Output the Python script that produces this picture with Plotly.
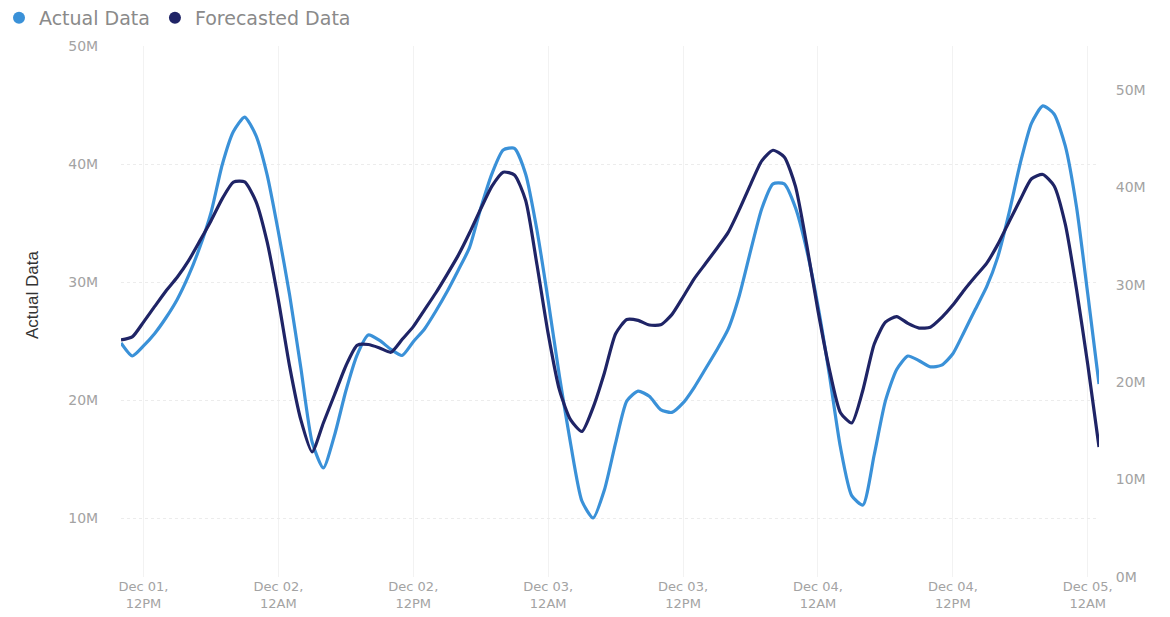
import pandas as pd
import plotly.graph_objects as go

# ---- data (hourly, Dec 01 10:00 -> Dec 05 01:00) ----
START = "2023-12-01 10:00"
actual_m = [
    24.83, 23.73, 24.58, 25.64, 26.97, 28.52, 30.51, 32.92, 35.85, 39.92,
    42.75, 43.98, 42.42, 39.07, 34.24, 28.90, 22.71, 16.44, 14.24, 17.03,
    20.76, 23.81, 25.51, 25.05, 24.30, 23.77, 24.94, 26.02, 27.52, 29.17,
    31.00, 32.91, 36.25, 39.19, 41.19, 41.33, 39.14, 34.41, 28.44, 22.03,
    16.27, 11.44, 10.00, 12.37, 16.36, 19.92, 20.75, 20.31, 19.19, 18.95,
    19.75, 21.08, 22.65, 24.24, 25.98, 28.84, 32.61, 36.21, 38.32, 38.31,
    36.29, 32.71, 27.97, 22.23, 15.99, 11.90, 11.10, 15.34, 19.92, 22.59,
    23.73, 23.33, 22.81, 22.95, 23.92, 25.77, 27.69, 29.58, 32.13, 35.85,
    40.08, 43.47, 44.92, 44.24, 41.53, 36.36, 28.98, 21.36,
]
forecast_m = [
    24.33, 24.64, 26.16, 27.77, 29.36, 30.76, 32.44, 34.47, 36.55, 38.81,
    40.53, 40.55, 38.56, 34.39, 28.42, 21.62, 16.12, 12.83, 15.81, 18.73,
    21.66, 23.78, 23.86, 23.51, 23.06, 24.37, 25.70, 27.42, 29.15, 31.04,
    33.01, 35.30, 37.78, 40.12, 41.55, 41.27, 38.64, 32.07, 24.98, 19.20,
    16.12, 14.94, 17.41, 20.94, 24.97, 26.43, 26.34, 25.86, 25.88, 26.93,
    28.74, 30.63, 32.17, 33.72, 35.34, 37.70, 40.28, 42.71, 43.80, 43.11,
    40.09, 34.10, 27.34, 21.39, 16.86, 15.81, 19.20, 23.89, 26.15, 26.73,
    26.03, 25.55, 25.64, 26.63, 27.91, 29.44, 30.84, 32.19, 34.14, 36.45,
    38.74, 40.88, 41.31, 40.16, 36.21, 29.53, 21.81, 13.35,
]
tick_times = [
    "2023-12-01 12:00", "2023-12-02 00:00", "2023-12-02 12:00", "2023-12-03 00:00",
    "2023-12-03 12:00", "2023-12-04 00:00", "2023-12-04 12:00", "2023-12-05 00:00",
]
tick_labels = [
    "Dec 01,<br>12PM", "Dec 02,<br>12AM", "Dec 02,<br>12PM", "Dec 03,<br>12AM",
    "Dec 03,<br>12PM", "Dec 04,<br>12AM", "Dec 04,<br>12PM", "Dec 05,<br>12AM",
]
left_ticks = [10e6, 20e6, 30e6, 40e6, 50e6]
left_labels = ["10M", "20M", "30M", "40M", "50M"]
right_ticks = [0, 10e6, 20e6, 30e6, 40e6, 50e6]
right_labels = ["0M", "10M", "20M", "30M", "40M", "50M"]

times = pd.date_range(START, periods=len(actual_m), freq="h")
actual = [v * 1e6 for v in actual_m]
forecast = [v * 1e6 for v in forecast_m]

C_ACT = "#3a91d8"
C_FC = "#1f2466"
FONT = "DejaVu Sans, sans-serif"
TICK_C = "#a3a3a3"

L, R, T, B = 121, 71, 46, 40
W, H = 1170, 617
PW, PH = W - L - R, H - T - B

fig = go.Figure()
fig.add_trace(go.Scatter(x=times, y=actual, mode="lines", name="Actual Data",
                         line=dict(color=C_ACT, width=3.2, shape="spline", smoothing=0.6),
                         showlegend=False, yaxis="y"))
fig.add_trace(go.Scatter(x=times, y=forecast, mode="lines", name="Forecasted Data",
                         line=dict(color=C_FC, width=3.2, shape="spline", smoothing=0.6),
                         showlegend=False, yaxis="y2"))
# legend entries with round markers
fig.add_trace(go.Scatter(x=[None], y=[None], mode="markers", name="Actual Data",
                         marker=dict(color=C_ACT, size=12, symbol="circle")))
fig.add_trace(go.Scatter(x=[None], y=[None], mode="markers", name="Forecasted Data",
                         marker=dict(color=C_FC, size=12, symbol="circle")))

fig.add_annotation(
    text="Actual Data", textangle=-90, showarrow=False,
    xref="paper", yref="paper",
    x=(32 - L) / PW, y=(H - B - 295) / PH, xanchor="center", yanchor="middle",
    font=dict(family="Liberation Sans Narrow, Arial Narrow, sans-serif",
              size=17, color="#333333"),
)

fig.update_layout(
    width=W, height=H,
    margin=dict(l=L, r=R, t=T, b=B, autoexpand=False),
    paper_bgcolor="white", plot_bgcolor="white",
    font=dict(family=FONT, color=TICK_C, size=14),
    showlegend=True,
    legend=dict(orientation="h", x=(-1 - L) / PW, xanchor="left",
                y=1 + (T - 18) / PH, yanchor="middle",
                font=dict(size=19, color="#8a8a8a", family=FONT),
                itemsizing="constant", traceorder="normal",
                bgcolor="rgba(0,0,0,0)"),
    xaxis=dict(
        type="date", range=[times[0], times[-1]],
        tickvals=pd.to_datetime(tick_times), ticktext=tick_labels,
        tickfont=dict(size=13, color=TICK_C),
        showgrid=True, gridcolor="#f2f2f2", gridwidth=1,
        zeroline=False, showline=False, ticks="", ticklen=0,
    ),
    yaxis=dict(
        range=[5e6, 50e6], tickvals=left_ticks, ticktext=left_labels,
        tickfont=dict(size=14, color=TICK_C),
        showgrid=True, gridcolor="#ececec", griddash="dot", gridwidth=1,
        zeroline=False, showline=False, ticks="outside", ticklen=19,
        tickcolor="rgba(0,0,0,0)",
    ),
    yaxis2=dict(
        range=[0, 54.5e6], tickvals=right_ticks, ticktext=right_labels,
        overlaying="y", side="right",
        tickfont=dict(size=14, color=TICK_C),
        showgrid=False, zeroline=False, showline=False,
        ticks="outside", ticklen=13, tickcolor="rgba(0,0,0,0)",
    ),
)

fig.write_html(
    "out.html",
    config={"displayModeBar": False},
    post_script="document.body.style.margin='0';document.body.style.overflow='hidden';",
)
